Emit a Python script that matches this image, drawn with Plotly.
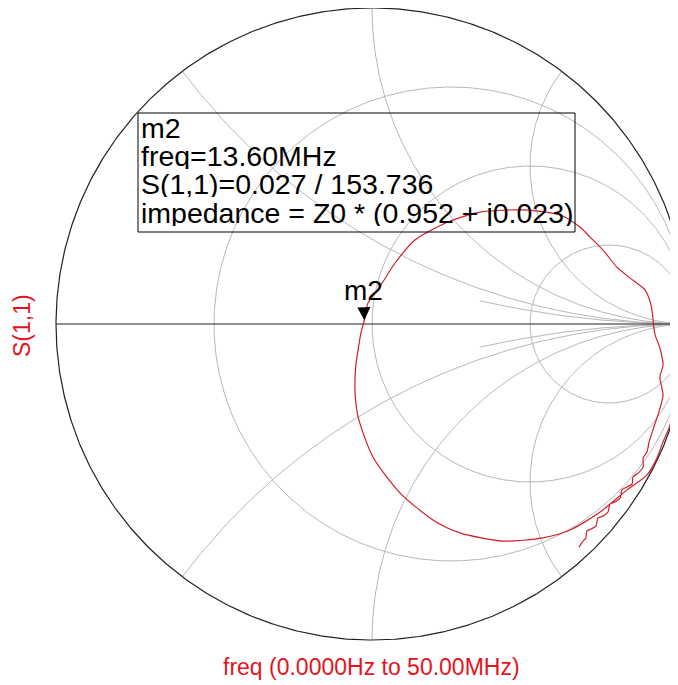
import numpy as np
import plotly.graph_objects as go

# ---------------- data ----------------
# S(1,1) trace, reflection coefficient (real, imag), 0 Hz -> 50 MHz
s11_re = [0.987, 0.984, 0.978, 0.968, 0.956, 0.940, 0.921, 0.899, 0.870,
          0.807, 0.722, 0.627, 0.541, 0.415, 0.278, 0.193, 0.089, 0.003,
          -0.044, -0.054, -0.051, -0.044, -0.035, -0.0242, -0.013, 0.022,
          0.073, 0.136, 0.241, 0.342, 0.478, 0.595, 0.658, 0.690, 0.731,
          0.775, 0.816, 0.864, 0.883, 0.889, 0.892, 0.896, 0.911, 0.921,
          0.911, 0.921, 0.908, 0.889, 0.877, 0.870, 0.858, 0.858, 0.842,
          0.826, 0.823, 0.807, 0.791, 0.785, 0.769, 0.753, 0.747, 0.731,
          0.715, 0.709, 0.693, 0.680, 0.677, 0.668, 0.655]
s11_im = [0.000, -0.066, -0.146, -0.209, -0.272, -0.329, -0.373, -0.430, -0.478,
          -0.525, -0.595, -0.652, -0.677, -0.687, -0.661, -0.620, -0.535, -0.421,
          -0.294, -0.209, -0.130, -0.082, -0.028, 0.0119, 0.066, 0.114,
          0.193, 0.266, 0.323, 0.354, 0.361, 0.345, 0.307, 0.275, 0.234,
          0.180, 0.146, 0.108, 0.060, 0.019, -0.013, -0.035, -0.076, -0.130,
          -0.168, -0.225, -0.278, -0.335, -0.373, -0.405, -0.424, -0.453, -0.472,
          -0.484, -0.506, -0.516, -0.525, -0.551, -0.563, -0.570, -0.595, -0.608,
          -0.614, -0.639, -0.649, -0.655, -0.677, -0.687, -0.706]

# marker m2
m2_name = "m2"
m2_freq_mhz = 13.60
m2_mag = 0.027
m2_ang_deg = 153.736
m2_z_re = 0.952
m2_z_im = 0.023

freq_start = "0.0000Hz"
freq_stop = "50.00MHz"

# Smith grid values
grid_r = [1 / 3, 1.0, 3.0]
grid_x = [0.5, 1.0, 2.0, -0.5, -1.0, -2.0]
grid_x_inner = [1 / 3, -1 / 3]      # short arcs, drawn only for r >= 2
grid_x_inner_rmin = 2.0

# ---------------- figure ----------------
WIN_W, WIN_H = 678, 685
OFF = 8                       # page body margin
W, H = WIN_W - OFF, WIN_H - OFF
RED = "#e3141c"
CURVE = "#cf1f2b"
GRID = "#b8b8b8"
FONT = "Arial, Liberation Sans, sans-serif"

fig = go.Figure()

def gam(z):
    return (z - 1) / (z + 1)

t = np.linspace(0, 2 * np.pi, 721)
for r in grid_r:
    c, rad = r / (1 + r), 1 / (1 + r)
    fig.add_trace(go.Scatter(x=c + rad * np.cos(t), y=rad * np.sin(t), mode="lines",
                             line=dict(color=GRID, width=1), hoverinfo="skip", showlegend=False))
rr = np.concatenate([[0.0], np.logspace(-3, 5, 900)])
for xv in grid_x:
    g = gam(rr + 1j * xv)
    fig.add_trace(go.Scatter(x=g.real, y=g.imag, mode="lines",
                             line=dict(color=GRID, width=1), hoverinfo="skip", showlegend=False))
rr2 = np.logspace(np.log10(grid_x_inner_rmin), 5, 400)
for xv in grid_x_inner:
    g = gam(rr2 + 1j * xv)
    fig.add_trace(go.Scatter(x=g.real, y=g.imag, mode="lines",
                             line=dict(color=GRID, width=1), hoverinfo="skip", showlegend=False))
fig.add_trace(go.Scatter(x=np.cos(t), y=np.sin(t), mode="lines",
                         line=dict(color="#202020", width=1.2), hoverinfo="skip", showlegend=False))
fig.add_trace(go.Scatter(x=[-1, 1], y=[0, 0], mode="lines",
                         line=dict(color="#202020", width=1.2), hoverinfo="skip", showlegend=False))

# data curve
fig.add_trace(go.Scatter(x=s11_re, y=s11_im, mode="lines",
                         line=dict(color=CURVE, width=1.2, shape="spline", smoothing=0.7),
                         name="S(1,1)", showlegend=False))

m2g = m2_mag * np.exp(1j * np.deg2rad(m2_ang_deg))

# ranges: 1 unit = 316 px, chart centre at window pixel (372, 324)
cx, cy, R = 372, 324, 316
fig.update_xaxes(range=[(OFF - cx) / R, (WIN_W - cx) / R], visible=False, fixedrange=True)
fig.update_yaxes(range=[-(WIN_H - cy) / R, (cy - OFF) / R], visible=False, fixedrange=True)

def py(p):
    return 1 - (p - OFF) / H

def px(p):
    return (p - OFF) / W

annots = []
# marker triangle + label
annots.append(dict(x=m2g.real, y=m2g.imag, xref="x", yref="y", text=m2_name,
                   showarrow=True, arrowhead=2, arrowsize=2.6, arrowwidth=1, arrowcolor="black",
                   ax=-1, ay=-30, startstandoff=4,
                   font=dict(family=FONT, size=28, color="black")))
lines = [m2_name,
         f"freq={m2_freq_mhz:.2f}MHz",
         f"S(1,1)={m2_mag:.3f} / {m2_ang_deg:.3f}",
         f"impedance = Z0 * ({m2_z_re:.3f} + j{m2_z_im:.3f})"]
for i, s in enumerate(lines):
    annots.append(dict(x=px(139), y=py(128 + 28 * i), xref="paper", yref="paper", text=s,
                       showarrow=False, xanchor="left", yanchor="middle", height=27,
                       font=dict(family=FONT, size=28.5, color="black")))
annots.append(dict(x=px(22), y=py(326), xref="paper", yref="paper", text="S(1,1)", textangle=-90,
                   showarrow=False, xanchor="center", yanchor="middle",
                   font=dict(family=FONT, size=23, color=RED)))
annots.append(dict(x=px(372), y=py(667), xref="paper", yref="paper",
                   text=f"freq ({freq_start} to {freq_stop})",
                   showarrow=False, xanchor="center", yanchor="middle",
                   font=dict(family=FONT, size=23, color=RED)))

fig.update_layout(
    width=W, height=H, margin=dict(l=0, r=0, t=0, b=0),
    paper_bgcolor="white", plot_bgcolor="white",
    annotations=annots,
    shapes=[dict(type="rect", xref="paper", yref="paper", x0=px(138), x1=px(575),
                 y0=py(232), y1=py(113), line=dict(color="black", width=1))],
)

fig.write_html("out.html")
